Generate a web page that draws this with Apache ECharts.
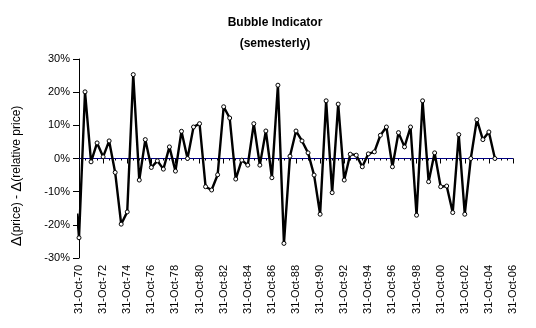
<!DOCTYPE html>
<html>
<head>
<meta charset="utf-8">
<script src="https://cdn.jsdelivr.net/npm/echarts@6/dist/echarts.min.js"></script>
<style>
  html, body { margin: 0; padding: 0; background: #fff; }
  #chart { width: 536px; height: 328px; }
</style>
</head>
<body>
<div id="chart"></div>
<script>
// Half-year periods counted from 31-Oct-70 (the first entry is a partial lead-in observation)
const periods = [-0.3,
  0, 1, 2, 3, 4, 5, 6, 7, 8, 9, 10, 11, 12, 13, 14, 15, 16, 17, 18, 19,
  20, 21, 22, 23, 24, 25, 26, 27, 28, 29, 30, 31, 32, 33, 34, 35, 36, 37, 38, 39,
  40, 41, 42, 43, 44, 45, 46, 47, 48, 49, 50, 51, 52, 53, 54, 55, 56, 57, 58, 59,
  60, 61, 62, 63, 64, 65, 66, 67, 68, 69];

// Δ(price) - Δ(relative price), in percent
const indicator = [-16.6,
  -23.9, 20.1, -1.0, 4.7, 0.5, 5.3, -4.2, -19.8, -16.1, 25.3,
  -6.5, 5.7, -2.7, -0.7, -3.2, 3.5, -3.8, 8.2, 0.0, 9.5,
  10.5, -8.5, -9.5, -4.9, 15.6, 12.2, -6.2, -0.5, -2.0, 10.5,
  -2.0, 8.3, -5.8, 22.1, -25.6, 0.7, 8.3, 5.3, 1.7, -5.0,
  -16.8, 17.4, -10.3, 16.4, -6.5, 1.3, 1.0, -2.5, 1.4, 2.0,
  7.0, 9.5, -2.5, 7.8, 3.5, 9.5, -17.1, 17.4, -7.0, 1.7,
  -8.5, -8.3, -16.3, 7.2, -16.8, 0.0, 11.7, 5.7, 8.0, 0.0];

const xTickLabels = ['31-Oct-70', '31-Oct-72', '31-Oct-74', '31-Oct-76', '31-Oct-78',
  '31-Oct-80', '31-Oct-82', '31-Oct-84', '31-Oct-86', '31-Oct-88', '31-Oct-90',
  '31-Oct-92', '31-Oct-94', '31-Oct-96', '31-Oct-98', '31-Oct-00', '31-Oct-02',
  '31-Oct-04', '31-Oct-06'];

// Zero reference line across the whole period range
const zeroLine = [[0, 0], [72, 0]];

const FONT = '"Liberation Sans", Arial, sans-serif';

const seriesData = periods.map((p, i) => {
  const item = { value: [p, indicator[i]] };
  if (p < 0) item.symbol = 'none';
  return item;
});

const chart = echarts.init(document.getElementById('chart'), null, { renderer: 'canvas' });
chart.setOption({
  backgroundColor: '#ffffff',
  animation: false,
  title: {
    text: 'Bubble Indicator\n(semesterly)',
    left: 270,
    top: 7,
    textAlign: 'center',
    textStyle: {
      fontFamily: FONT, fontSize: 12, fontWeight: 'bold', color: '#000',
      lineHeight: 21
    }
  },
  graphic: [{
    type: 'text',
    x: 17,
    y: 176,
    rotation: Math.PI / 2,
    style: {
      text: '{d|Δ}(price) - {d|Δ}(relative price)',
      align: 'center',
      verticalAlign: 'middle',
      font: '12px ' + FONT,
      fill: '#000',
      rich: {
        d: { fontFamily: FONT, fontSize: 15, fill: '#000' }
      }
    }
  }],
  grid: { left: 79, right: 23, top: 59, bottom: 70, containLabel: false },
  xAxis: {
    type: 'value',
    min: 0,
    max: 72,
    interval: 4,
    axisLine: { show: true, lineStyle: { color: '#000', width: 1 } },
    axisTick: { show: true, length: 5, lineStyle: { color: '#000' } },
    minorTick: { show: true, splitNumber: 4, length: 2, lineStyle: { color: '#000' } },
    splitLine: { show: false },
    axisLabel: {
      rotate: 90,
      margin: 7,
      fontFamily: FONT, fontSize: 11, color: '#000',
      formatter: v => xTickLabels[Math.round(v / 4)] || ''
    }
  },
  yAxis: {
    type: 'value',
    min: -30,
    max: 30,
    interval: 10,
    axisLine: { show: true, lineStyle: { color: '#000', width: 1 } },
    axisTick: { show: true, length: 6, lineStyle: { color: '#000' } },
    splitLine: { show: false },
    axisLabel: {
      margin: 9,
      fontFamily: FONT, fontSize: 11, color: '#000',
      formatter: v => v + '%'
    }
  },
  series: [{
    type: 'line',
    data: zeroLine,
    symbol: 'none',
    silent: true,
    lineStyle: { color: '#000080', width: 1, type: 'solid' },
    z: 2
  }, {
    type: 'line',
    data: seriesData,
    clip: false,
    symbol: 'circle',
    symbolSize: 4,
    itemStyle: { color: '#ffffff', borderColor: '#000', borderWidth: 1 },
    lineStyle: { color: '#000', width: 2.4 },
    z: 3
  }]
});
</script>
</body>
</html>
